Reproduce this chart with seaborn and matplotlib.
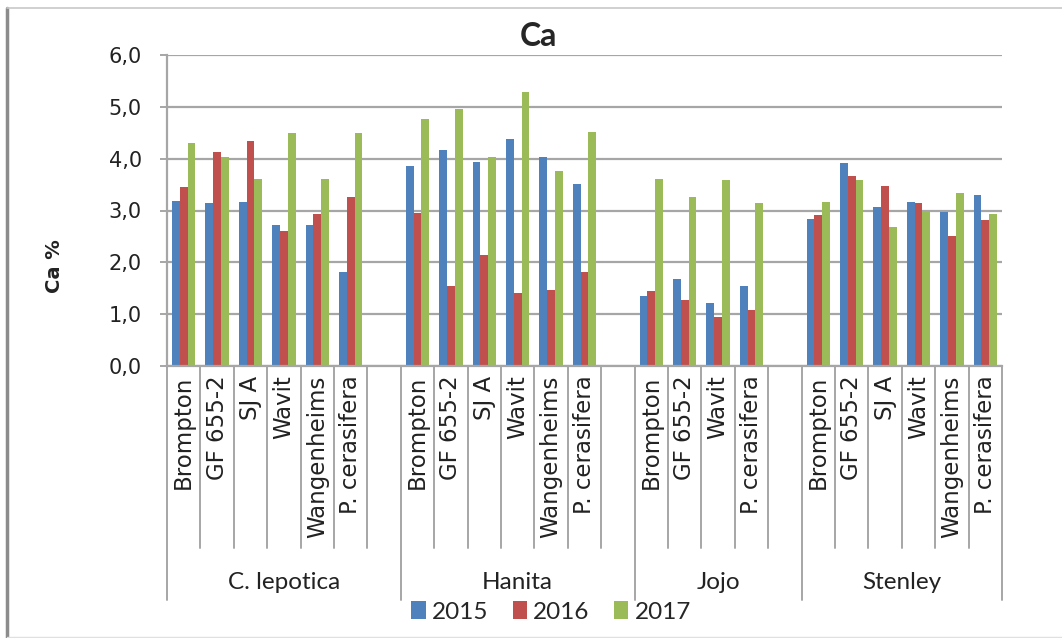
import numpy as np
import pandas as pd
import matplotlib
matplotlib.use("Agg")
import matplotlib.pyplot as plt
import seaborn as sns
from matplotlib import font_manager
from matplotlib.lines import Line2D
from matplotlib.ticker import FuncFormatter, MultipleLocator

# --- data -----------------------------------------------------------------
cultivars = ["C. lepotica", "Hanita", "Jojo", "Stenley"]
rootstocks_lepotica = ["Brompton", "GF 655-2", "SJ A", "Wavit", "Wangenheims", "P. cerasifera"]
rootstocks_hanita = ["Brompton", "GF 655-2", "SJ A", "Wavit", "Wangenheims", "P. cerasifera"]
rootstocks_jojo = ["Brompton", "GF 655-2", "Wavit", "P. cerasifera"]
rootstocks_stenley = ["Brompton", "GF 655-2", "SJ A", "Wavit", "Wangenheims", "P. cerasifera"]

years = ["2015", "2016", "2017"]
ca_2015 = [3.19, 3.14, 3.17, 2.72, 2.72, 1.82,
           3.86, 4.16, 3.94, 4.38, 4.04, 3.51,
           1.35, 1.68, 1.22, 1.55,
           2.84, 3.91, 3.06, 3.17, 2.98, 3.29]
ca_2016 = [3.46, 4.13, 4.34, 2.61, 2.94, 3.27,
           2.95, 1.55, 2.15, 1.40, 1.46, 1.82,
           1.45, 1.28, 0.95, 1.08,
           2.91, 3.66, 3.47, 3.15, 2.50, 2.82]
ca_2017 = [4.31, 4.04, 3.61, 4.49, 3.61, 4.49,
           4.76, 4.95, 4.04, 5.28, 3.77, 4.51,
           3.61, 3.26, 3.58, 3.15,
           3.17, 3.58, 2.69, 2.98, 3.34, 2.94]

colors = ["#4F81BD", "#C0504D", "#9BBB59"]

# --- fonts ----------------------------------------------------------------
sns.set_style("white")
installed = {f.name for f in font_manager.fontManager.ttflist}
narrow = "Liberation Sans Narrow" if "Liberation Sans Narrow" in installed else "Lato"
label_size = 20 if narrow == "Liberation Sans Narrow" else 17.5
plt.rcParams["font.family"] = ["DejaVu Sans"]

# --- long-form table with one category slot per bar group, plus a blank
# slot after every cultivar except the last one ---------------------------
groups = [rootstocks_lepotica, rootstocks_hanita, rootstocks_jojo, rootstocks_stenley]
slot_order, slot_labels, group_spans = [], [], []
rows = []
k = 0
for gi, (cv, roots) in enumerate(zip(cultivars, groups)):
    start = len(slot_order)
    for r in roots:
        key = f"{cv}|{r}"
        slot_order.append(key)
        slot_labels.append(r)
        for y, vals in zip(years, (ca_2015, ca_2016, ca_2017)):
            rows.append({"slot": key, "year": y, "ca": vals[k]})
        k += 1
    if gi < len(cultivars) - 1:
        slot_order.append(f"{cv}|")
        slot_labels.append("")
    group_spans.append((start, len(slot_order)))
df = pd.DataFrame(rows)

# --- figure ---------------------------------------------------------------
W, H = 1062, 638
fig = plt.figure(figsize=(W / 100, H / 100), dpi=100)
ax = fig.add_axes([167 / W, 1 - 366 / H, (1002 - 167) / W, (366 - 55) / H])

sns.barplot(data=df, x="slot", y="ca", hue="year", order=slot_order,
            hue_order=years, palette=colors, saturation=1, width=0.7,
            gap=0, linewidth=0, ax=ax)

grid_c = "#A6A6A6"
ax.set_ylim(0, 6)
ax.set_xlim(-0.5, len(slot_order) - 0.5)
ax.yaxis.set_major_locator(MultipleLocator(1))
ax.yaxis.set_major_formatter(FuncFormatter(lambda v, p: f"{v:.1f}".replace(".", ",")))
ax.grid(axis="y", color=grid_c, linewidth=1.6)
ax.set_axisbelow(True)
for s in ("top", "right"):
    ax.spines[s].set_visible(False)
for s in ("left", "bottom"):
    ax.spines[s].set_color(grid_c)
    ax.spines[s].set_linewidth(1.6)
ax.tick_params(axis="y", length=5, width=1.4, color=grid_c, pad=13,
               labelsize=15, labelcolor="#222222", left=True)

positions = [i for i, lab in enumerate(slot_labels) if lab]
ax.set_xticks(positions)
ax.set_xticklabels([slot_labels[i] for i in positions], rotation=90,
                   fontsize=16.5, color="#222222", va="top", ha="center")
ax.tick_params(axis="x", length=0, pad=7)
ax.set_xlabel("")
ax.set_ylabel("")

# category separators below the axis
trans = ax.get_xaxis_transform()
group_edges = {s for s, e in group_spans} | {group_spans[-1][1]}
for b in range(len(slot_order) + 1):
    x = b - 0.5
    y_end = -0.752 if b in group_edges else -0.585
    ax.add_line(Line2D([x, x], [0, y_end], transform=trans, color=grid_c,
                       linewidth=1.4, clip_on=False))

# cultivar labels
for cv, (s, e) in zip(cultivars, group_spans):
    ax.text((s + e - 1) / 2, -0.695, cv, transform=trans, ha="center",
            va="center", fontsize=label_size, family=narrow, color="#222222")

# legend
sns.move_legend(ax, loc="center", bbox_to_anchor=(551 / W, 1 - 612 / H),
                bbox_transform=fig.transFigure, ncol=3, frameon=False,
                title=None, prop={"family": narrow, "size": label_size},
                handlelength=0.6, handleheight=0.7, handletextpad=0.25,
                columnspacing=1.0, borderpad=0)

# titles
fig.text(538 / W, 1 - 36 / H, "Ca", ha="center", va="center", fontsize=23,
         fontweight="bold", family=narrow)
fig.text(55 / W, 1 - 266 / H, "Ca %", ha="center", va="center", rotation=90,
         fontsize=14, fontweight="bold", color="#222222")

# chart-area border
fig.add_artist(Line2D([6.5 / W, 6.5 / W], [0, 1 - 8 / H], color="#8C8C8C",
                      linewidth=2.5, transform=fig.transFigure))
fig.add_artist(Line2D([6.5 / W, 1], [1 - 8 / H, 1 - 8 / H], color="#C8C8C8",
                      linewidth=1.2, transform=fig.transFigure))
fig.add_artist(Line2D([6.5 / W, 1], [1 - 636.5 / H, 1 - 636.5 / H], color="#E0E0E0",
                      linewidth=1.0, transform=fig.transFigure))

fig.savefig("out.png", dpi=100)
